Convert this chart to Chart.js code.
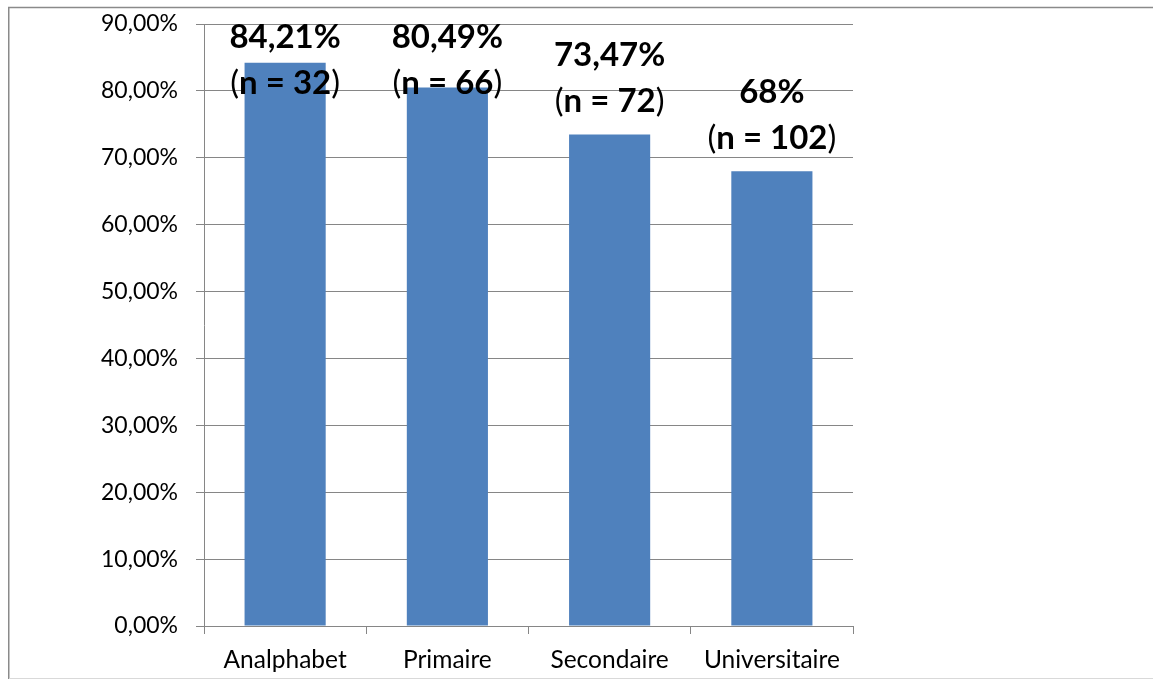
<!DOCTYPE html>
<html>
<head>
<meta charset="utf-8">
<script src="https://cdn.jsdelivr.net/npm/chart.js@4"></script>
<style>
  html, body { margin: 0; padding: 0; background: #fff; }
  #wrap { width: 1153px; height: 679px; }
</style>
</head>
<body>
<div id="wrap"><canvas id="c" width="1153" height="679"></canvas></div>
<script>
// Niveau d'instruction
const categories = ['Analphabet', 'Primaire', 'Secondaire', 'Universitaire'];
// Pourcentages (%)
const percentages = [84.21, 80.49, 73.47, 68];
// Effectifs
const counts = [32, 66, 72, 102];
// Graduations de l'axe vertical (%)
const yTicks = [0, 10, 20, 30, 40, 50, 60, 70, 80, 90];

const FONT = 'Lato, "Open Sans", sans-serif';
const GRID = '#868686';

function fmtPct(v) {
  return Number.isInteger(v) ? v + '%' : v.toFixed(2).replace('.', ',') + '%';
}

// Cadre extérieur
const framePlugin = {
  id: 'frame',
  beforeDraw(chart) {
    const ctx = chart.ctx;
    ctx.save();
    ctx.fillStyle = '#fff';
    ctx.fillRect(0, 0, chart.width, chart.height);
    ctx.strokeStyle = '#8a8a8a';
    ctx.lineWidth = 1.5;
    ctx.beginPath();
    ctx.moveTo(8.75, 679);
    ctx.lineTo(8.75, 7.5);
    ctx.lineTo(1153, 7.5);
    ctx.stroke();
    ctx.strokeStyle = '#d9d9d9';
    ctx.lineWidth = 1;
    ctx.beginPath();
    ctx.moveTo(9, 678.5);
    ctx.lineTo(1153, 678.5);
    ctx.stroke();
    ctx.restore();
  }
};

// Étiquettes au-dessus des barres : pourcentage puis (n = ...)
const barLabels = {
  id: 'barLabels',
  afterDatasetsDraw(chart) {
    const ctx = chart.ctx;
    const meta = chart.getDatasetMeta(0);
    const size = 33;
    const bold = 'bold ' + size + 'px ' + FONT;
    const reg = size + 'px ' + FONT;
    ctx.save();
    ctx.fillStyle = '#000';
    ctx.textBaseline = 'middle';
    meta.data.forEach((bar, i) => {
      let l2 = bar.y - 33;
      let l1 = l2 - 46;
      if (l1 < 37) { l1 = 37; l2 = l1 + 46; }
      const x = bar.x;
      ctx.font = bold;
      ctx.textAlign = 'center';
      ctx.fillText(fmtPct(percentages[i]), x, l1);
      // second line with regular parentheses
      const mid = 'n = ' + counts[i];
      ctx.font = reg;
      const wp = ctx.measureText('(').width;
      const wq = ctx.measureText(')').width;
      ctx.font = bold;
      const wm = ctx.measureText(mid).width;
      let sx = x - (wp + wm + wq) / 2;
      ctx.textAlign = 'left';
      ctx.font = reg;
      ctx.fillText('(', sx, l2);
      ctx.font = bold;
      ctx.fillText(mid, sx + wp, l2);
      ctx.font = reg;
      ctx.fillText(')', sx + wp + wm, l2);
    });
    ctx.restore();
  }
};

new Chart(document.getElementById('c'), {
  type: 'bar',
  data: {
    labels: categories,
    datasets: [{
      data: percentages,
      backgroundColor: '#4F81BD',
      borderWidth: 0,
      barPercentage: 1,
      categoryPercentage: 0.5
    }]
  },
  options: {
    responsive: false,
    animation: false,
    events: [],
    layout: { padding: { left: 0, right: 300, top: 24, bottom: 0 } },
    plugins: { legend: { display: false }, tooltip: { enabled: false } },
    scales: {
      x: {
        grid: {
          offset: true,
          drawOnChartArea: false,
          drawTicks: true,
          tickLength: 8,
          color: GRID
        },
        border: { display: true, color: GRID, width: 1 },
        ticks: {
          color: '#000',
          font: { family: FONT, size: 24.5 },
          padding: 11,
          maxRotation: 0
        },
        afterFit(scale) {
          scale.height = 53;
          scale.paddingLeft = 0;
          scale.paddingRight = 0;
        }
      },
      y: {
        min: 0,
        max: 90,
        afterBuildTicks(scale) { scale.ticks = yTicks.map(v => ({ value: v })); },
        grid: {
          color: GRID,
          tickLength: 8,
          drawTicks: true
        },
        border: { display: true, color: GRID, width: 1 },
        ticks: {
          color: '#000',
          font: { family: FONT, size: 23 },
          padding: 18,
          callback: v => v.toFixed(2).replace('.', ',') + '%'
        },
        afterFit(scale) {
          scale.width = 204;
          scale.paddingTop = 0;
          scale.paddingBottom = 0;
        }
      }
    }
  },
  plugins: [framePlugin, barLabels]
});
</script>
</body>
</html>
